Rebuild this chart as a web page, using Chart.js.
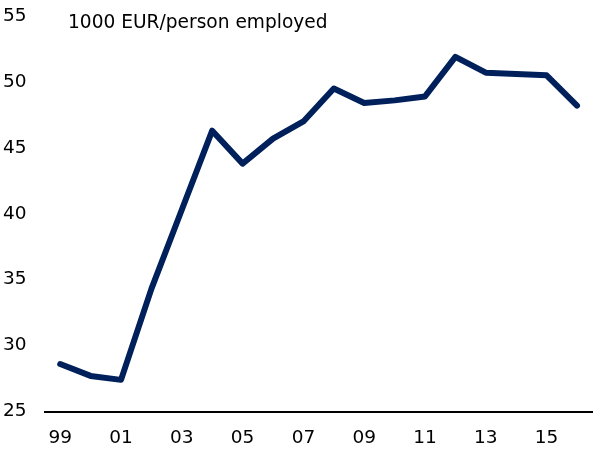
<!DOCTYPE html>
<html>
<head>
<meta charset="utf-8">
<script src="https://cdn.jsdelivr.net/npm/chart.js@4.4.1/dist/chart.umd.min.js"></script>
<style>
    html, body { margin: 0; padding: 0; background: #fff; }
    #wrap { width: 593px; height: 450px; position: relative; }
</style>
</head>
<body>
<div id="wrap"><canvas id="chart"></canvas></div>
<script>
const years = ['99', '00', '01', '02', '03', '04', '05', '06', '07', '08', '09', '10', '11', '12', '13', '14', '15', '16'];
const productivity = [28.6, 27.7, 27.4, 34.3, 40.3, 46.3, 43.8, 45.7, 47.0, 49.5, 48.4, 48.6, 48.9, 51.9, 50.7, 50.6, 50.5, 48.2];
const yTicks = [25, 30, 35, 40, 45, 50, 55];
const unitLabel = '1000 EUR/person employed';

const fontFamily = '"DejaVu Sans", Verdana, sans-serif';

const unitPlugin = {
    id: 'unit-label',
    afterDraw(chart) {
        const { ctx } = chart;
        ctx.save();
        ctx.font = '18.6px ' + fontFamily;
        ctx.fillStyle = '#000';
        ctx.textBaseline = 'middle';
        ctx.textAlign = 'left';
        ctx.fillText(unitLabel, 68, 23);
        ctx.restore();
    },
};

new Chart(document.getElementById('chart'), {
    type: 'line',
    data: {
        labels: years,
        datasets: [
            {
                data: productivity,
                borderColor: '#00205b',
                borderWidth: 6,
                pointRadius: 0,
                tension: 0,
                borderJoinStyle: 'round',
                borderCapStyle: 'round',
            },
        ],
    },
    options: {
        responsive: true,
        maintainAspectRatio: false,
        animation: false,
        layout: { padding: { top: 16, right: 0, left: 3, bottom: 0 } },
        plugins: { legend: { display: false }, tooltip: { enabled: false } },
        scales: {
            x: {
                offset: true,
                grid: { display: false, drawTicks: false },
                border: { display: true, color: '#000', width: 2 },
                ticks: {
                    autoSkip: false,
                    maxRotation: 0,
                    padding: 16,
                    color: '#000',
                    font: { family: fontFamily, size: 18.5 },
                    callback: (v, i) => (i % 2 === 0 ? years[i] : ''),
                },
                afterFit: (s) => { s.height = 38.5; },
            },
            y: {
                min: 25,
                max: 55,
                grid: { display: false, drawTicks: false },
                border: { display: false },
                afterBuildTicks: (s) => { s.ticks = yTicks.map((v) => ({ value: v })); },
                ticks: {
                    crossAlign: 'far',
                    padding: 0,
                    color: '#000',
                    font: { family: fontFamily, size: 18.5 },
                },
                afterFit: (s) => { s.width = 42; },
            },
        },
    },
    plugins: [unitPlugin],
});
</script>
</body>
</html>
